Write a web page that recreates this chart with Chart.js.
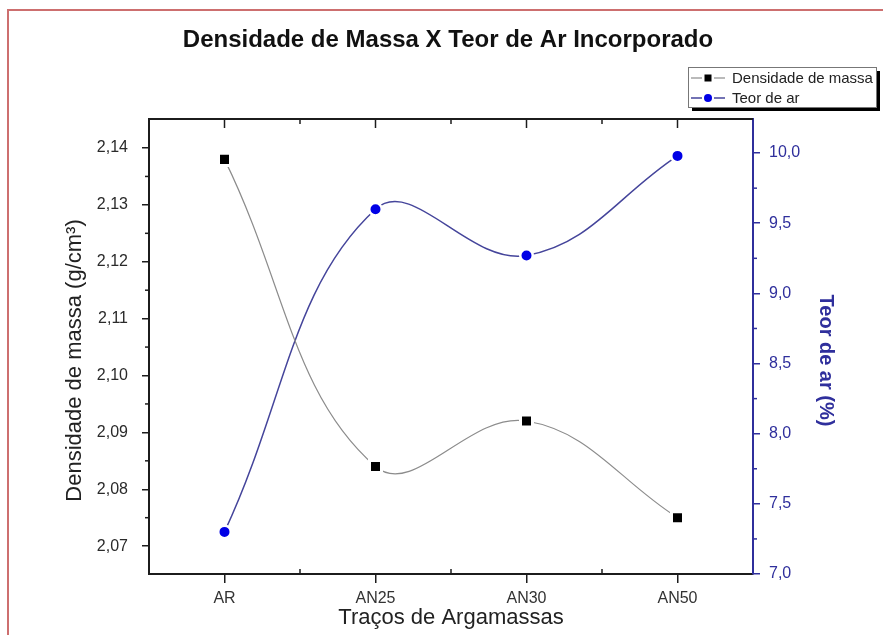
<!DOCTYPE html>
<html>
<head>
<meta charset="utf-8">
<title>Densidade de Massa X Teor de Ar Incorporado</title>
<script src="https://cdn.jsdelivr.net/npm/chart.js@4.4.1/dist/chart.umd.min.js"></script>
<style>
  html, body { margin: 0; padding: 0; background: #fff; overflow: hidden; }
  #wrap { position: relative; width: 883px; height: 635px; }
  #frame { position: absolute; left: 7px; top: 9px; width: 920px; height: 700px;
           border: 2px solid #cd6f6f; box-sizing: border-box; pointer-events: none; }
  canvas { position: absolute; left: 0; top: 0; }
</style>
</head>
<body>
<div id="wrap">
  <canvas id="densidadeChart" width="883" height="635"></canvas>
  <div id="frame"></div>
</div>
<script>
const categories = ['AR', 'AN25', 'AN30', 'AN50'];
const densidade = [2.138, 2.084, 2.092, 2.075];
const teorAr = [7.30, 9.60, 9.27, 9.98];
const densidadeTicks = [2.07, 2.08, 2.09, 2.10, 2.11, 2.12, 2.13, 2.14];
const teorTicks = [7.0, 7.5, 8.0, 8.5, 9.0, 9.5, 10.0];

const FONT = '"Liberation Sans", Arial, sans-serif';
const INK = '#1c1c1c';
const BLUE = '#2f2f9c';

const virgula = (v, d) => v.toFixed(d).replace('.', ',');

function seg(ctx, x1, y1, x2, y2) {
  ctx.beginPath();
  ctx.moveTo(x1, y1);
  ctx.lineTo(x2, y2);
  ctx.stroke();
}

// top frame line, minor ticks, rotated y titles, main title and legend box
const decor = {
  id: 'decor',
  afterDraw(chart) {
    const { ctx, chartArea: a, scales } = chart;
    const { x, y, y1 } = scales;
    ctx.save();

    ctx.strokeStyle = INK;
    ctx.lineWidth = 2;
    seg(ctx, a.left - 1, a.top, a.right, a.top);

    // x: ticks at categories pointing in on top, short ticks between categories
    ctx.lineWidth = 1.5;
    categories.forEach((c, i) => {
      const px = x.getPixelForValue(i);
      seg(ctx, px, a.top, px, a.top + 9);
      if (i < categories.length - 1) {
        const mid = (px + x.getPixelForValue(i + 1)) / 2;
        seg(ctx, mid, a.top, mid, a.top + 5);
        seg(ctx, mid, a.bottom, mid, a.bottom - 5);
      }
    });

    // y minor ticks
    for (let i = 0; i < densidadeTicks.length - 1; i++) {
      const py = y.getPixelForValue((densidadeTicks[i] + densidadeTicks[i + 1]) / 2);
      seg(ctx, a.left, py, a.left - 4, py);
    }
    ctx.strokeStyle = BLUE;
    for (let i = 0; i < teorTicks.length - 1; i++) {
      const py = y1.getPixelForValue((teorTicks[i] + teorTicks[i + 1]) / 2);
      seg(ctx, a.right, py, a.right + 4, py);
    }

    // axis titles on the sides
    const midY = (a.top + a.bottom) / 2 + 14;
    ctx.textAlign = 'center';
    ctx.textBaseline = 'middle';
    ctx.fillStyle = '#222';
    ctx.font = '22px ' + FONT;
    ctx.save();
    ctx.translate(75, midY);
    ctx.rotate(-Math.PI / 2);
    ctx.fillText('Densidade de massa (g/cm³)', 0, 0);
    ctx.restore();
    ctx.fillStyle = BLUE;
    ctx.font = 'bold 20px ' + FONT;
    ctx.save();
    ctx.translate(826, midY);
    ctx.rotate(Math.PI / 2);
    ctx.fillText('Teor de ar (%)', 0, 0);
    ctx.restore();

    // main title
    ctx.fillStyle = '#111';
    ctx.font = 'bold 24px ' + FONT;
    ctx.fillText('Densidade de Massa X Teor de Ar Incorporado', (a.left + a.right) / 2 - 3, 40);

    // legend with drop shadow
    const lx = 688, ly = 67, lw = 188, lh = 40;
    ctx.fillStyle = '#000';
    ctx.fillRect(lx + 4, ly + 4, lw, lh);
    ctx.fillStyle = '#fff';
    ctx.fillRect(lx, ly, lw, lh);
    ctx.strokeStyle = '#777';
    ctx.lineWidth = 1;
    ctx.strokeRect(lx + 0.5, ly + 0.5, lw, lh);

    ctx.textAlign = 'left';
    ctx.font = '15px ' + FONT;
    chart.data.datasets.forEach((ds, i) => {
      const ry = ly + 11 + i * 20;
      const mx = lx + 20;
      // sample line broken around the marker
      ctx.strokeStyle = ds.borderColor;
      ctx.lineWidth = ds.borderWidth;
      seg(ctx, lx + 3, ry, mx - 6, ry);
      seg(ctx, mx + 6, ry, lx + 37, ry);
      ctx.fillStyle = ds.pointBackgroundColor;
      if (ds.pointStyle === 'rect') {
        ctx.fillRect(mx - 3.5, ry - 3.5, 7, 7);
      } else {
        ctx.beginPath();
        ctx.arc(mx, ry, 4, 0, Math.PI * 2);
        ctx.fill();
      }
      ctx.fillStyle = '#222';
      ctx.fillText(ds.label, lx + 44, ry + 1);
    });

    ctx.restore();
  }
};

const ctx = document.getElementById('densidadeChart');

new Chart(ctx, {
  type: 'line',
  data: {
    labels: categories,
    datasets: [
      {
        label: 'Densidade de massa',
        data: densidade,
        yAxisID: 'y',
        borderColor: '#8c8c8c',
        borderWidth: 1.2,
        tension: 0.4,
        pointStyle: 'rect',
        pointRadius: 8.5,
        pointBackgroundColor: '#000',
        pointBorderColor: '#fff',
        pointBorderWidth: 3
      },
      {
        label: 'Teor de ar',
        data: teorAr,
        yAxisID: 'y1',
        borderColor: '#45459b',
        borderWidth: 1.5,
        tension: 0.4,
        pointStyle: 'circle',
        pointRadius: 6.25,
        pointBackgroundColor: '#0000e6',
        pointBorderColor: '#fff',
        pointBorderWidth: 2.5
      }
    ]
  },
  options: {
    responsive: false,
    animation: false,
    events: [],
    layout: { padding: { left: 14, right: 0, top: 119, bottom: 0 } },
    plugins: {
      legend: { display: false },
      tooltip: { enabled: false },
      title: { display: false }
    },
    scales: {
      x: {
        type: 'category',
        offset: true,
        border: { color: INK, width: 2 },
        grid: { drawOnChartArea: false, tickLength: 9, color: INK, lineWidth: 1.5 },
        ticks: { color: '#333', font: { family: FONT, size: 16 }, padding: 6 },
        title: {
          display: true,
          text: 'Traços de Argamassas',
          color: '#222',
          font: { family: FONT, size: 22 },
          padding: { top: 0, bottom: 4 }
        },
        afterFit: s => { s.height = 61; }
      },
      y: {
        position: 'left',
        min: 2.0651,
        max: 2.1451,
        border: { color: INK, width: 2 },
        grid: { drawOnChartArea: false, tickLength: 7, color: INK, lineWidth: 1.5 },
        ticks: {
          color: '#2a2a2a',
          font: { family: FONT, size: 16 },
          padding: 14,
          callback: v => virgula(v, 2)
        },
        afterBuildTicks: s => { s.ticks = densidadeTicks.map(v => ({ value: v })); },
        afterFit: s => { s.width = 135; }
      },
      y1: {
        position: 'right',
        min: 7.0,
        max: 10.243,
        border: { color: BLUE, width: 2 },
        grid: { drawOnChartArea: false, tickLength: 7, color: BLUE, lineWidth: 1.5 },
        ticks: {
          color: BLUE,
          font: { family: FONT, size: 16 },
          padding: 9,
          callback: v => virgula(v, 1)
        },
        afterBuildTicks: s => { s.ticks = teorTicks.map(v => ({ value: v })); },
        afterFit: s => { s.width = 130; }
      }
    }
  },
  plugins: [decor]
});
</script>
</body>
</html>
